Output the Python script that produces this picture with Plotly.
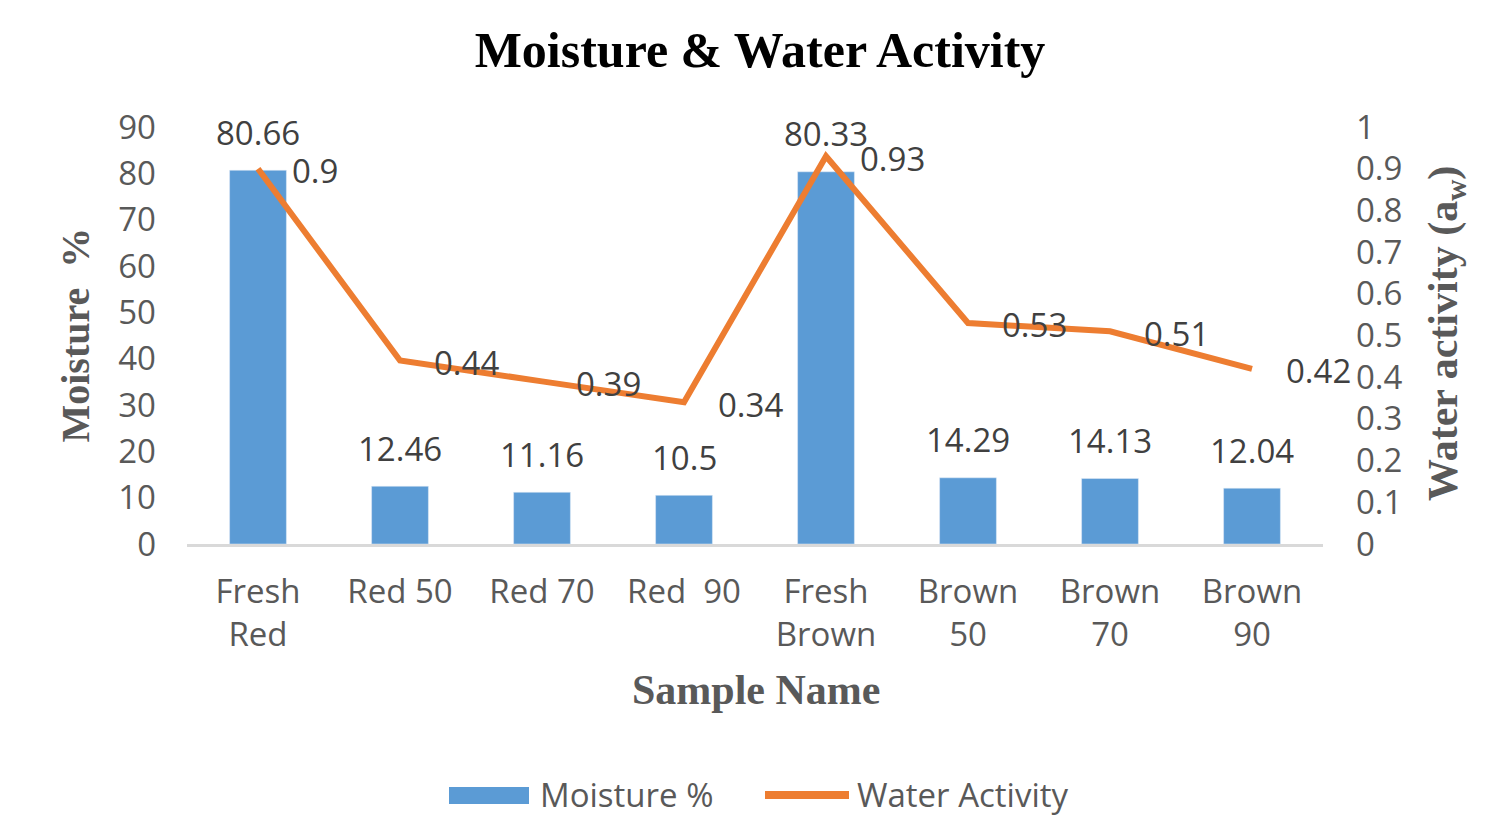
import plotly.graph_objects as go

categories = ["Fresh<br>Red", "Red 50", "Red 70", "Red \u00a090", "Fresh<br>Brown", "Brown<br>50", "Brown<br>70", "Brown<br>90"]
moisture = [80.66, 12.46, 11.16, 10.5, 80.33, 14.29, 14.13, 12.04]
water_activity = [0.9, 0.44, 0.39, 0.34, 0.93, 0.53, 0.51, 0.42]
moisture_labels = ["80.66", "12.46", "11.16", "10.5", "80.33", "14.29", "14.13", "12.04"]
wa_labels = ["0.9", "0.44", "0.39", "0.34", "0.93", "0.53", "0.51", "0.42"]

BLUE = "#5B9BD5"
ORANGE = "#ED7D31"
GRAY = "#595959"
DARK = "#404040"
TICKFONT = "Open Sans"
SERIF = "Liberation Serif"

# figure geometry (page is offset by 8px body margin)
W, H = 1504, 808
L, R, T, B = 179, 189, 119, 272
PW, PH = W - L - R, H - T - B


def px_x(page_x):
    return (page_x - 8 - L) / PW


def px_y(page_y):
    return (H - B - (page_y - 8)) / PH


fig = go.Figure()
fig.add_trace(go.Bar(x=categories, y=moisture, name="Moisture %", marker_color=BLUE,
                     width=0.4, yaxis="y", showlegend=False))
fig.add_trace(go.Scatter(x=categories, y=water_activity, name="Water Activity", mode="lines",
                         line=dict(color=ORANGE, width=6), yaxis="y2", showlegend=False))

annotations = []
for c, v, t in zip(categories, moisture, moisture_labels):
    annotations.append(dict(x=c, y=v, xref="x", yref="y", text=t, showarrow=False,
                            yanchor="middle", yshift=38,
                            font=dict(family=TICKFONT, size=33, color=DARK)))
for c, v, t in zip(categories, water_activity, wa_labels):
    annotations.append(dict(x=c, y=v, xref="x", yref="y2", text=t, showarrow=False,
                            xanchor="left", xshift=32, yshift=-2,
                            font=dict(family=TICKFONT, size=33, color=DARK)))

annotations.append(dict(x=px_x(75), y=0.5, xref="paper", yref="paper",
                        text="<b>Moisture\u00a0 %</b>", textangle=-90, showarrow=False,
                        xanchor="center", yanchor="middle",
                        font=dict(family=SERIF, size=40, color=GRAY)))
annotations.append(dict(x=px_x(1446), y=px_y(334), xref="paper", yref="paper",
                        text="<b>Water activity (a<sub>w</sub>)</b>",
                        textangle=-90, showarrow=False, xanchor="center", yanchor="middle",
                        font=dict(family=SERIF, size=42, color=GRAY)))
annotations.append(dict(x=px_x(756), y=px_y(690), xref="paper", yref="paper",
                        text="<b>Sample Name</b>", showarrow=False,
                        xanchor="center", yanchor="middle",
                        font=dict(family=SERIF, size=42, color=GRAY)))

# custom legend
annotations.append(dict(x=px_x(538), y=px_y(794), xref="paper", yref="paper",
                        text="Moisture %", showarrow=False, xanchor="left", yanchor="middle",
                        font=dict(family=TICKFONT, size=33, color=GRAY)))
annotations.append(dict(x=px_x(855), y=px_y(794), xref="paper", yref="paper",
                        text="Water Activity", showarrow=False, xanchor="left", yanchor="middle",
                        font=dict(family=TICKFONT, size=33, color=GRAY)))
shapes = [
    dict(type="rect", xref="paper", yref="paper", x0=px_x(449), x1=px_x(529),
         y0=px_y(804), y1=px_y(787), fillcolor=BLUE, line=dict(width=0)),
    dict(type="line", xref="paper", yref="paper", x0=px_x(765), x1=px_x(849),
         y0=px_y(795), y1=px_y(795), line=dict(color=ORANGE, width=8)),
]

fig.update_layout(
    width=W, height=H,
    margin=dict(l=L, r=R, t=T, b=B),
    paper_bgcolor="white", plot_bgcolor="white",
    title=dict(text="<b>Moisture & Water Activity</b>", x=(760 - 8) / W, xanchor="center",
               y=1 - 41 / H, yanchor="middle",
               font=dict(family=SERIF, size=50, color="black")),
    xaxis=dict(range=[-0.5, 7.5], autorange=False, showgrid=False, showline=True,
               linecolor="#D9D9D9", linewidth=3,
               ticks="", tickfont=dict(family=TICKFONT, size=33, color=GRAY),
               ticklabelstandoff=16),
    yaxis=dict(range=[0, 90], dtick=10, showgrid=False, showline=False, zeroline=False,
               tickfont=dict(family=TICKFONT, size=33, color=GRAY), ticklabelstandoff=30),
    yaxis2=dict(range=[0, 1], dtick=0.1, overlaying="y", side="right", showgrid=False,
                showline=False, zeroline=False,
                tickfont=dict(family=TICKFONT, size=33, color=GRAY), ticklabelstandoff=32),
    annotations=annotations,
    shapes=shapes,
    showlegend=False,
)

fig.write_html("out.html")
